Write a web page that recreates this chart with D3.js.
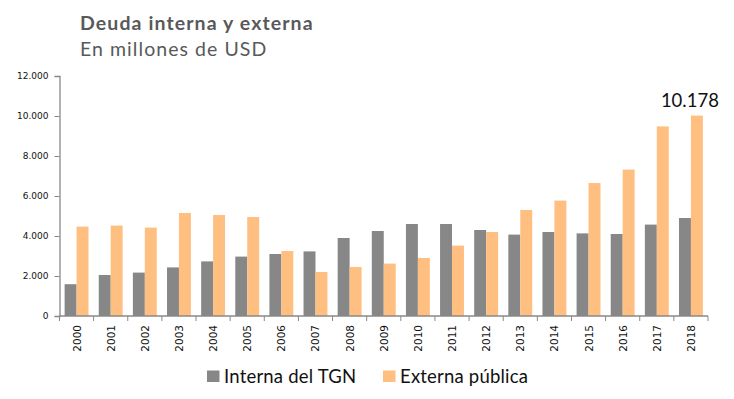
<!DOCTYPE html>
<html><head><meta charset="utf-8">
<script src="https://cdn.jsdelivr.net/npm/d3@7/dist/d3.min.js"></script>
<style>body{margin:0;background:#fff}svg{display:block}</style>
</head><body>
<script>
const years = ["2000","2001","2002","2003","2004","2005","2006","2007","2008","2009","2010","2011","2012","2013","2014","2015","2016","2017","2018"];
const interna = [1590,2050,2170,2430,2730,2970,3100,3230,3900,4250,4600,4600,4300,4070,4200,4130,4100,4570,4900];
const externa = [4470,4520,4420,5150,5050,4950,3250,2200,2450,2620,2900,3520,4200,5300,5770,6650,7320,9480,10020];
const seriesNames = ["Interna del TGN","Externa pública"];
const colors = ["#878787","#FFBF80"];
const yTicks = [0,2000,4000,6000,8000,10000,12000];
const title = "Deuda interna y externa";
const subtitle = "En millones de USD";
const lastLabel = "10.178";

const W = 734, H = 399;
const svg = d3.select("body").append("svg").attr("width",W).attr("height",H);
const L = 59.5, R = 708, T = 76, B = 316;

const x0 = d3.scaleBand().domain(years).range([L,R]).paddingInner(0.3).paddingOuter(0.15);
const x1 = d3.scaleBand().domain([0,1]).range([0,x0.bandwidth()]);
const y = d3.scaleLinear().domain([0,12000]).range([B,T]);
const step = x0.step();

// Title
svg.append("text").attr("x",80).attr("y",29.5).text(title)
  .attr("font-family","Lato, 'Open Sans', sans-serif").attr("font-weight","bold")
  .attr("font-size",19.5).attr("letter-spacing",1.1).attr("fill","#595959");
svg.append("text").attr("x",80).attr("y",56).text(subtitle)
  .attr("font-family","Lato, 'Open Sans', sans-serif")
  .attr("font-size",19.5).attr("letter-spacing",1.05).attr("fill","#595959");

// Bars
const data = years.map((yr,i)=>({yr, vals:[interna[i],externa[i]]}));
const g = svg.append("g").selectAll("g").data(data).join("g")
  .attr("transform",d=>`translate(${x0(d.yr)},0)`);
g.selectAll("rect").data(d=>d.vals.map((v,k)=>({v,k}))).join("rect")
  .attr("x",d=>x1(d.k)).attr("width",x1.bandwidth())
  .attr("y",d=>y(d.v)).attr("height",d=>B-y(d.v))
  .attr("fill",d=>colors[d.k]);

// Y axis
const yAxis = d3.axisLeft(y).tickValues(yTicks).tickSize(5).tickPadding(6)
  .tickFormat(d=>d3.format(",")(d).replace(/,/g,"."));
const ya = svg.append("g").attr("transform",`translate(${L},0)`).call(yAxis);
ya.select(".domain").attr("stroke","#888").attr("stroke-width",1.3);
ya.selectAll(".tick line").attr("stroke","#888");
ya.selectAll("text").attr("font-family","'DejaVu Sans', sans-serif").attr("font-size",9).attr("fill","#111");

// X axis
const xa = svg.append("g").attr("transform",`translate(0,${B})`);
xa.append("line").attr("x1",L).attr("x2",R).attr("stroke","#888").attr("stroke-width",1.3);
const bounds = years.map(d=>x0(d)-step*0.15).concat([R]);
xa.selectAll("line.tk").data(bounds).join("line").attr("class","tk")
  .attr("x1",d=>d).attr("x2",d=>d).attr("y1",0).attr("y2",5).attr("stroke","#888");
xa.selectAll("text").data(years).join("text")
  .attr("transform",d=>`translate(${x0(d)+x0.bandwidth()/2+4},9) rotate(-90)`)
  .attr("text-anchor","end").text(d=>d)
  .attr("font-family","'DejaVu Sans', sans-serif").attr("font-size",10.5).attr("fill","#111");

// Annotation
const lastYear = years[years.length-1];
svg.append("text").attr("x",x0(lastYear)+x1(1)+x1.bandwidth()/2-7).attr("y",106.5)
  .attr("text-anchor","middle").text(lastLabel)
  .attr("font-family","Lato, 'Open Sans', sans-serif").attr("font-size",18.5).attr("fill","#111");

// Legend
const legX = [207, 383];
seriesNames.forEach((n,k)=>{
  svg.append("rect").attr("x",legX[k]).attr("y",370.5).attr("width",12.5).attr("height",11.5).attr("fill",colors[k]);
  svg.append("text").attr("x",legX[k]+17).attr("y",383).text(n)
    .attr("font-family","Lato, 'Open Sans', sans-serif").attr("font-size",18.5).attr("letter-spacing",0.2).attr("fill","#111");
});
</script>
</body></html>
